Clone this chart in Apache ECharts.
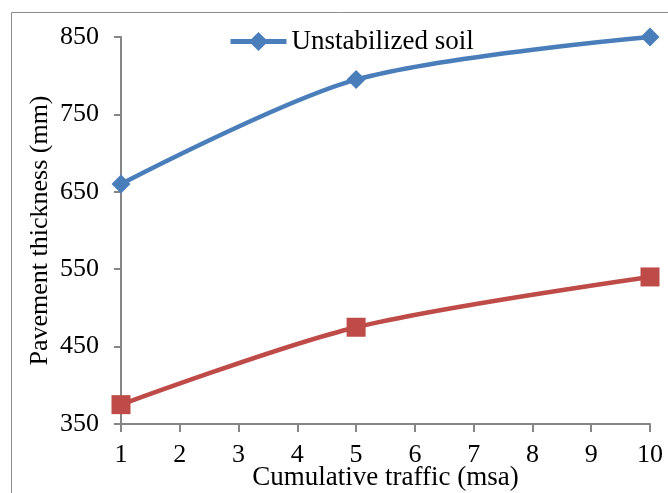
<!DOCTYPE html>
<html><head><meta charset="utf-8">
<script src="https://cdn.jsdelivr.net/npm/echarts@6/dist/echarts.min.js"></script>
<style>html,body{margin:0;padding:0;background:#fff}#c{width:668px;height:493px}</style>
</head><body><div id="c"></div>
<script>
const traffic = [1, 5, 10];
const unstabilized = [660, 795, 850];
const stabilized = [375, 475, 540];
const xTicks = [1,2,3,4,5,6,7,8,9,10];
const yTicks = [350,450,550,650,750,850];

const chart = echarts.init(document.getElementById('c'));
const font = 'Liberation Serif, Times New Roman, serif';
chart.setOption({
  animation: false,
  graphic: [{type:'rect', shape:{x:11.5,y:12.5,width:700,height:520}, style:{fill:'none', stroke:'#8c8c8c', lineWidth:1}, silent:true}],
  grid: {left:121, right:18, top:37, bottom:69, containLabel:false, outerBoundsMode:'none'},
  legend: {data:['Unstabilized soil'], left:223, top:23, itemWidth:56, itemHeight:24, itemGap:4,
    lineStyle:{width:5},
    textStyle:{fontFamily:font, fontSize:27, color:'#000'}},
  xAxis: {type:'value', min:1, max:10, interval:1,
    name:'Cumulative traffic (msa)', nameLocation:'middle', nameGap:40, nameMoveOverlap:false,
    nameTextStyle:{fontFamily:font, fontSize:27, color:'#000'},
    axisLine:{lineStyle:{color:'#868686', width:2}},
    axisTick:{show:true, inside:false, length:8, lineStyle:{color:'#868686', width:2}},
    axisLabel:{fontFamily:font, fontSize:26, color:'#000', margin:18, formatter: v => xTicks.includes(v) ? String(v) : ''},
    splitLine:{show:false}},
  yAxis: {type:'value', min:350, max:850, interval:100,
    name:'Pavement thickness (mm)', nameLocation:'middle', nameGap:68, nameMoveOverlap:false,
    nameTextStyle:{fontFamily:font, fontSize:26, color:'#000'},
    axisLine:{show:true, lineStyle:{color:'#868686', width:2}},
    axisTick:{show:true, inside:false, length:7, lineStyle:{color:'#868686', width:2}},
    axisLabel:{fontFamily:font, fontSize:26, color:'#000', margin:22, formatter: v => yTicks.includes(v) ? String(v) : ''},
    splitLine:{show:false}},
  series: [
    {name:'Unstabilized soil', type:'line', smooth:0.3, data: traffic.map((x,i)=>[x, unstabilized[i]]),
      symbol:'diamond', symbolSize:19, lineStyle:{color:'#4A7EBB', width:4.5}, itemStyle:{color:'#4A7EBB'}},
    {name:'Stabilized soil', type:'line', smooth:0.3, data: traffic.map((x,i)=>[x, stabilized[i]]),
      symbol:'rect', symbolSize:19, lineStyle:{color:'#BE4B48', width:4.5}, itemStyle:{color:'#BE4B48'}}
  ]
});
</script></body></html>
